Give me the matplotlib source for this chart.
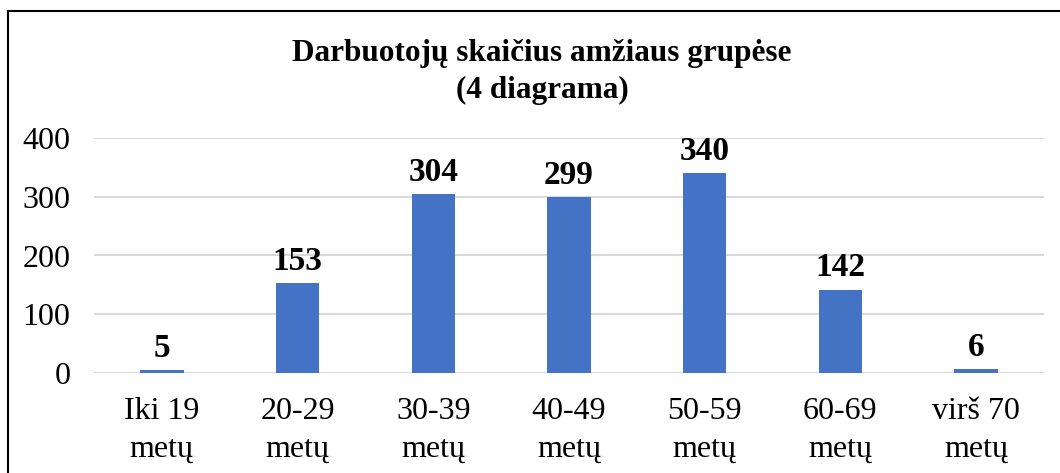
import numpy as np
import matplotlib
matplotlib.use("Agg")
from matplotlib import pyplot as plt
from matplotlib.lines import Line2D

### DATA ######################################################################

categories = ["Iki 19\nmetų", "20-29\nmetų", "30-39\nmetų", "40-49\nmetų",
              "50-59\nmetų", "60-69\nmetų", "virš 70\nmetų"]
values = [5, 153, 304, 299, 340, 142, 6]
yticks = [0, 100, 200, 300, 400]
title = "Darbuotojų skaičius amžiaus grupėse\n(4 diagrama)"

### FIGURE ####################################################################

plt.rcParams['font.family'] = ['Liberation Serif', 'DejaVu Serif']
W, H = 1060, 473
fig = plt.figure(figsize=(W / 100, H / 100), dpi=100)

# axes placed in pixel units of the reference
left, right, bottom, top = 94, 1044, 373, 138
ax = fig.add_axes([left / W, 1 - bottom / H, (right - left) / W, (bottom - top) / H])

x = np.arange(len(categories))
bars = ax.bar(x, values, width=0.32, color="#4472c4", zorder=3)

ax.set_xlim(-0.5, len(categories) - 0.5)
ax.set_ylim(0, 400)
ax.set_yticks(yticks)
ax.set_xticks(x)
ax.set_xticklabels(categories, fontsize=23, linespacing=1.38)
ax.tick_params(axis='y', labelsize=23, length=0, pad=17)
ax.tick_params(axis='x', length=0, pad=17.5)
ax.grid(axis='y', color="#d9d9d9", linewidth=1.5, zorder=0)
for s in ax.spines.values():
    s.set_visible(False)

for xi, v in zip(x, values):
    ax.text(xi, v + 11, str(v), ha='center', va='bottom', fontsize=24,
            fontweight='bold')

fig.text(542 / W, 1 - 72 / H, title, ha='center', va='center', fontsize=22.5,
         fontweight='bold', linespacing=1.32)

# outer frame (left and top lines visible in the crop)
fig.add_artist(Line2D([7.5 / W, 7.5 / W], [0, 1 - 11 / H], color='black', lw=1.5))
fig.add_artist(Line2D([7.5 / W, 1], [1 - 11 / H, 1 - 11 / H], color='black', lw=1.5))

fig.savefig("out.png", dpi=100)
